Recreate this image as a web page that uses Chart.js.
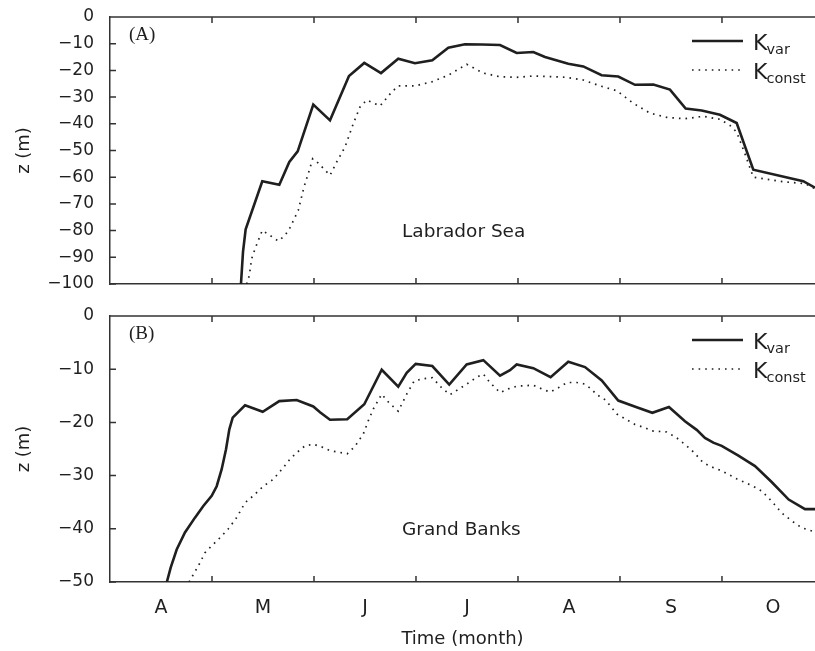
<!DOCTYPE html>
<html>
<head>
<meta charset="utf-8">
<script src="https://cdn.jsdelivr.net/npm/chart.js@4.4.1/dist/chart.umd.min.js"></script>
<style>
  html, body { margin: 0; padding: 0; background: #fff; overflow: hidden; }
  .panel { position: absolute; left: 0; width: 815px; }
  #topWrap { top: 0; height: 300px; }
  #bottomWrap { top: 300px; height: 351px; }
</style>
</head>
<body>
<div id="topWrap" class="panel"><canvas id="topChart"></canvas></div>
<div id="bottomWrap" class="panel"><canvas id="bottomChart"></canvas></div>
<script>
// ─── DATA ────────────────────────────────────────────────────
// time is in months counted from 1 April (0 = start of April)
const months = ['A', 'M', 'J', 'J', 'A', 'S', 'O'];
const monthCentres = [0.5, 1.5, 2.5, 3.5, 4.5, 5.5, 6.5];
const monthEdges = [1, 2, 3, 4, 5, 6];
const labDepthTicks = [0, -10, -20, -30, -40, -50, -60, -70, -80, -90, -100];
const gbDepthTicks = [0, -10, -20, -30, -40, -50];

// (A) Labrador Sea
const labVarT = [1.284, 1.304, 1.330, 1.493, 1.660, 1.758, 1.840, 1.993, 2.157, 2.343, 2.493, 2.657,
    2.826, 2.990, 3.160, 3.317, 3.480, 3.647, 3.824, 3.987, 4.150, 4.265, 4.493, 4.640,
    4.820, 4.983, 5.147, 5.327, 5.490, 5.644, 5.801, 5.980, 6.144, 6.307, 6.797, 6.912];
const labVarZ = [-100, -88, -79.5, -61.5, -62.8, -54.3, -50.3, -32.8, -38.7, -22.1, -17.2, -21.0,
    -15.6, -17.3, -16.2, -11.5, -10.2, -10.3, -10.5, -13.5, -13.1, -15.0, -17.5, -18.5,
    -21.8, -22.3, -25.4, -25.3, -27.2, -34.3, -35.0, -36.6, -39.7, -57.2, -61.5, -63.9];
const labConstT = [1.340, 1.366, 1.389, 1.422, 1.493, 1.569, 1.650, 1.716, 1.765, 1.846, 1.902, 1.954,
    1.987, 2.042, 2.157, 2.223, 2.304, 2.385, 2.451, 2.517, 2.647, 2.762, 2.826, 2.990,
    3.154, 3.317, 3.497, 3.660, 3.824, 3.987, 4.150, 4.314, 4.477, 4.640, 4.804, 4.968,
    5.130, 5.294, 5.458, 5.637, 5.817, 5.980, 6.078, 6.144, 6.225, 6.307, 6.601, 6.814, 6.912];
const labConstZ = [-100, -96.8, -90.5, -86.8, -79.9, -81.8, -83.9, -81.8, -78.9, -72.4, -63.7, -57.4,
    -53.1, -54.7, -59.3, -54.3, -48.7, -40.0, -33.7, -31.1, -33.3, -28.1, -25.8, -25.8,
    -24.3, -21.8, -17.7, -21.0, -22.4, -22.6, -22.1, -22.3, -22.6, -23.6, -25.8, -27.6,
    -32.3, -36.0, -37.6, -38.1, -37.2, -38.3, -40.6, -43.1, -51.2, -60.0, -61.7, -62.4, -64.3];

// (B) Grand Banks
const gbVarT = [0.556, 0.595, 0.654, 0.735, 0.833, 0.915, 0.997, 1.046, 1.095, 1.137, 1.170, 1.203,
    1.324, 1.497, 1.660, 1.830, 1.993, 2.059, 2.157, 2.326, 2.493, 2.664, 2.826, 2.909,
    2.997, 3.160, 3.326, 3.497, 3.660, 3.824, 3.922, 3.987, 4.150, 4.320, 4.493, 4.657,
    4.821, 4.983, 5.157, 5.317, 5.480, 5.637, 5.752, 5.833, 5.915, 5.997, 6.157, 6.324,
    6.487, 6.654, 6.814, 6.912];
const gbVarZ = [-50.1, -47.3, -43.9, -40.7, -37.9, -35.7, -33.8, -32.0, -28.8, -25.1, -21.3, -19.1,
    -16.8, -18.0, -16.0, -15.8, -17.0, -18.1, -19.5, -19.4, -16.6, -10.1, -13.3, -10.7,
    -9.0, -9.4, -12.9, -9.1, -8.3, -11.2, -10.2, -9.1, -9.8, -11.5, -8.6, -9.6,
    -12.1, -15.9, -17.1, -18.2, -17.1, -19.8, -21.4, -22.9, -23.8, -24.4, -26.2, -28.2,
    -31.2, -34.5, -36.3, -36.3];
const gbConstT = [0.775, 0.817, 0.882, 0.931, 0.997, 1.078, 1.160, 1.242, 1.324, 1.405, 1.503, 1.601,
    1.699, 1.765, 1.830, 1.912, 1.993, 2.075, 2.157, 2.326, 2.402, 2.483, 2.532, 2.581,
    2.664, 2.735, 2.826, 2.909, 2.983, 3.072, 3.160, 3.252, 3.333, 3.497, 3.595, 3.660,
    3.725, 3.824, 3.905, 3.987, 4.150, 4.232, 4.314, 4.395, 4.483, 4.575, 4.657, 4.722,
    4.778, 4.836, 4.902, 4.968, 5.049, 5.147, 5.245, 5.311, 5.458, 5.556, 5.654, 5.728,
    5.817, 5.915, 5.997, 6.144, 6.307, 6.389, 6.487, 6.585, 6.683, 6.781, 6.912];
const gbConstZ = [-50, -48.6, -46.4, -44.5, -43.2, -41.7, -40.0, -37.9, -35.1, -33.8, -32.0, -30.7,
    -28.5, -26.9, -25.7, -24.4, -24.1, -24.6, -25.3, -25.9, -24.5, -22.2, -19.7, -17.5,
    -14.7, -16.3, -17.9, -14.7, -12.2, -11.8, -11.6, -13.5, -14.8, -12.8, -11.5, -10.9,
    -12.5, -14.4, -13.7, -13.2, -13.0, -13.7, -14.3, -13.5, -12.5, -12.5, -12.8, -13.8,
    -14.9, -15.4, -16.8, -18.4, -19.3, -20.4, -21.0, -21.6, -21.8, -22.9, -24.4, -25.7,
    -27.6, -28.5, -29.1, -30.6, -32.0, -32.9, -34.8, -37.0, -38.5, -39.8, -40.6];


// ─── STYLE ───────────────────────────────────────────────────
const SANS = "'DejaVu Sans', sans-serif";
const SERIF = "'Liberation Serif', 'DejaVu Serif', serif";
const INK = '#1f1f1f';
const AXIS = '#333333';
const X_MAX = 6.912;
const TICK_LEN = 6;
const DOTS = [1.6, 5];

Chart.defaults.font.family = SANS;
Chart.defaults.color = INK;
Chart.defaults.animation = false;

const zip = (t, z) => t.map((v, i) => ({ x: v, y: z[i] }));
const minus = v => (v < 0 ? '\u2212' + Math.abs(v) : String(v));


// ─── PLUGIN: frame, inward ticks, panel texts, legend ────────
const framePlugin = {
    id: 'frame',
    afterDraw(chart, args, opts) {
        const { ctx, chartArea: a, scales: { x, y } } = chart;
        ctx.save();

        // top border + inward tick marks
        ctx.strokeStyle = AXIS;
        ctx.lineWidth = 1.5;
        ctx.beginPath();
        ctx.moveTo(a.left, a.top);
        ctx.lineTo(a.right, a.top);
        monthEdges.forEach(v => {
            const px = x.getPixelForValue(v);
            ctx.moveTo(px, a.top);
            ctx.lineTo(px, a.top + TICK_LEN);
            ctx.moveTo(px, a.bottom);
            ctx.lineTo(px, a.bottom - TICK_LEN);
        });
        opts.yTicks.forEach(v => {
            const py = y.getPixelForValue(v);
            ctx.moveTo(a.left, py);
            ctx.lineTo(a.left + TICK_LEN, py);
        });
        ctx.stroke();

        // panel letter and region name
        ctx.fillStyle = INK;
        ctx.textBaseline = 'middle';
        ctx.font = '19px ' + SERIF;
        ctx.fillText(opts.letter, a.left + 19, a.top + 18);
        ctx.font = '18.5px ' + SANS;
        ctx.fillText(opts.region, a.left + 292, a.top + opts.regionDy);

        // legend
        const lx0 = a.left + 582, lx1 = a.left + 633, tx = a.left + 643;
        const rows = [
            { y: a.top + 24, sub: 'var', dash: [], width: 2.6 },
            { y: a.top + 53, sub: 'const', dash: DOTS, width: 1.7 }
        ];
        rows.forEach(r => {
            ctx.beginPath();
            ctx.setLineDash(r.dash);
            ctx.lineWidth = r.width;
            ctx.strokeStyle = INK;
            ctx.moveTo(lx0, r.y);
            ctx.lineTo(lx1, r.y);
            ctx.stroke();
            ctx.setLineDash([]);
            ctx.textBaseline = 'alphabetic';
            ctx.font = '22px ' + SANS;
            ctx.fillText('K', tx, r.y + 8.5);
            const kw = ctx.measureText('K').width;
            ctx.font = '14.5px ' + SANS;
            ctx.fillText(r.sub, tx + kw - 1, r.y + 12.5);
        });

        ctx.restore();
    }
};


// ─── PANEL BUILDER ───────────────────────────────────────────
function makePanel(canvasId, cfg) {
    new Chart(document.getElementById(canvasId), {
        type: 'line',
        data: {
            datasets: [
                {
                    label: 'Kvar',
                    data: zip(cfg.varT, cfg.varZ),
                    borderColor: INK,
                    borderWidth: 2.6,
                    pointRadius: 0,
                    tension: 0,
                    fill: false
                },
                {
                    label: 'Kconst',
                    data: zip(cfg.constT, cfg.constZ),
                    borderColor: INK,
                    borderWidth: 1.7,
                    borderDash: DOTS,
                    pointRadius: 0,
                    tension: 0,
                    fill: false
                }
            ]
        },
        options: {
            responsive: true,
            maintainAspectRatio: false,
            layout: { padding: { top: cfg.padTop, right: 0, left: 0, bottom: 0 } },
            plugins: {
                legend: { display: false },
                tooltip: { enabled: false },
                frame: {
                    yTicks: cfg.yTicks,
                    letter: cfg.letter,
                    region: cfg.region,
                    regionDy: cfg.regionDy
                }
            },
            scales: {
                x: {
                    type: 'linear',
                    min: 0,
                    max: X_MAX,
                    afterBuildTicks: s => { s.ticks = monthCentres.map(v => ({ value: v })); },
                    afterFit: s => { s.height = cfg.xHeight; },
                    ticks: {
                        display: cfg.showMonths,
                        autoSkip: false,
                        maxRotation: 0,
                        padding: 0,
                        color: INK,
                        font: { size: 19 },
                        callback: (v, i) => months[i]
                    },
                    // invisible tick marks only push the labels away from the axis
                    grid: { display: false, drawTicks: true, tickLength: 15 },
                    border: { display: true, color: AXIS, width: 1.5 },
                    title: {
                        display: cfg.showMonths,
                        text: 'Time (month)',
                        color: INK,
                        font: { size: 18 },
                        padding: { top: 0, bottom: 1 }
                    }
                },
                y: {
                    min: cfg.yTicks[cfg.yTicks.length - 1],
                    max: 0,
                    afterBuildTicks: s => { s.ticks = cfg.yTicks.map(v => ({ value: v })); },
                    afterFit: s => { s.width = 110; },
                    ticks: {
                        padding: 0,
                        color: INK,
                        font: { size: 17 },
                        callback: v => minus(v)
                    },
                    grid: { display: false, drawTicks: true, tickLength: 16 },
                    border: { display: true, color: AXIS, width: 1.5 },
                    title: {
                        display: true,
                        text: 'z (m)',
                        color: INK,
                        font: { size: 18 },
                        padding: { top: 14, bottom: 0 }
                    }
                }
            }
        },
        plugins: [framePlugin]
    });
}

makePanel('topChart', {
    varT: labVarT, varZ: labVarZ, constT: labConstT, constZ: labConstZ,
    yTicks: labDepthTicks, letter: '(A)', region: 'Labrador Sea', regionDy: 215,
    padTop: 17, xHeight: 16, showMonths: false
});

makePanel('bottomChart', {
    varT: gbVarT, varZ: gbVarZ, constT: gbConstT, constZ: gbConstZ,
    yTicks: gbDepthTicks, letter: '(B)', region: 'Grand Banks', regionDy: 214,
    padTop: 16, xHeight: 69, showMonths: true
});
</script>
</body>
</html>
